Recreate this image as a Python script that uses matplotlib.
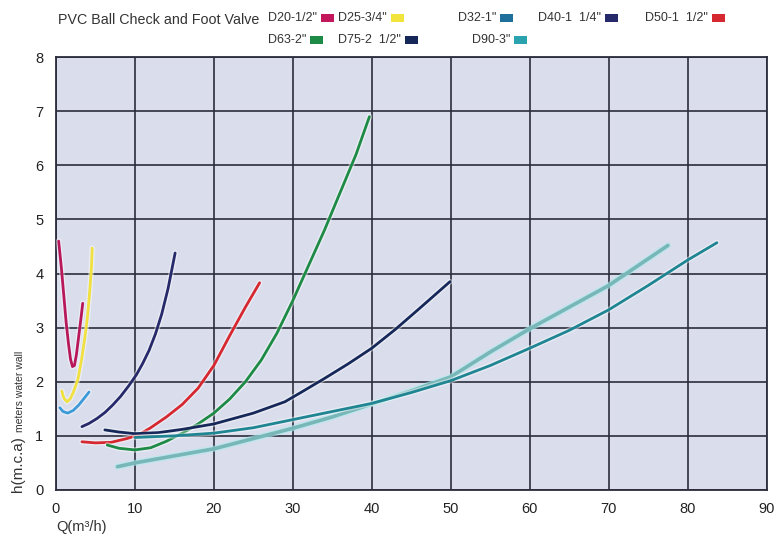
import matplotlib.pyplot as plt
import matplotlib.patheffects as pe
from matplotlib.patches import Rectangle

plt.rcParams['font.family'] = ['Liberation Sans', 'DejaVu Sans']

""" Data read off the chart """

names = ['D20-1/2"', 'D25-3/4"', 'D32-1"', 'D40-1  1/4"', 'D50-1  1/2"',
         'D63-2"', 'D75-2  1/2"', 'D90-3"']
colors = ['#c2185b', '#f2e43c', '#1f6f9c', '#262a6a', '#d62830',
          '#1d8a45', '#16285a', '#2aa3ae']
line_colors = ['#b8185a', '#f0e040', '#3d9ad8', '#262a6a', '#d62830',
               '#1d8a45', '#16285a', '#1f8593']

d20_q = [0.35, 0.7, 1.0, 1.3, 1.6, 1.85, 2.1, 2.35, 2.6, 2.9, 3.2, 3.4]
d20_h = [4.6, 4.1, 3.6, 3.1, 2.7, 2.42, 2.28, 2.3, 2.5, 2.85, 3.2, 3.45]

d25_q = [0.75, 1.0, 1.4, 1.8, 2.2, 2.8, 3.3, 3.7, 4.0, 4.3, 4.5, 4.6]
d25_h = [1.83, 1.7, 1.63, 1.68, 1.8, 2.05, 2.45, 2.85, 3.2, 3.7, 4.1, 4.47]

d32_q = [0.5, 0.9, 1.5, 2.2, 2.9, 3.5, 4.2]
d32_h = [1.52, 1.45, 1.42, 1.47, 1.57, 1.68, 1.81]

d40_q = [3.3, 4.2, 5.2, 6.2, 7.2, 8.2, 9.2, 10.2, 11.0, 11.8, 12.6, 13.4, 14.2, 15.1]
d40_h = [1.17, 1.23, 1.32, 1.43, 1.57, 1.73, 1.92, 2.13, 2.34, 2.58, 2.88, 3.25, 3.72, 4.38]

d50_q = [3.3, 5, 7, 9, 10.5, 12, 14, 16, 18, 20, 22, 24, 25.8]
d50_h = [0.89, 0.87, 0.88, 0.95, 1.02, 1.15, 1.35, 1.58, 1.88, 2.3, 2.85, 3.38, 3.83]

d63_q = [6.5, 8, 10, 12, 14, 16, 18, 20, 22, 24, 26, 28, 30, 32, 34, 36, 38, 39.7]
d63_h = [0.83, 0.77, 0.74, 0.78, 0.9, 1.05, 1.22, 1.42, 1.68, 2.0, 2.4, 2.9, 3.5, 4.15, 4.8, 5.5, 6.2, 6.9]

d75_q = [6.2, 8, 10, 13, 16, 20, 25, 29, 31, 34, 37, 40, 43, 46, 49.9]
d75_h = [1.11, 1.07, 1.04, 1.06, 1.12, 1.22, 1.42, 1.63, 1.8, 2.06, 2.33, 2.62, 2.97, 3.35, 3.85]

d90_q = [10, 15, 20, 25, 30, 35, 40, 45, 50, 55, 60, 65, 70, 75, 80, 83.7]
d90_h = [0.97, 1.0, 1.05, 1.15, 1.3, 1.45, 1.6, 1.8, 2.02, 2.3, 2.62, 2.95, 3.33, 3.78, 4.25, 4.57]

# extra curve without its own legend entry
ext_q = [7.8, 10, 15, 20, 25, 30, 35, 40, 45, 50, 55, 60, 65, 70, 77.5]
ext_h = [0.43, 0.5, 0.63, 0.76, 0.95, 1.14, 1.35, 1.59, 1.83, 2.09, 2.55, 2.98, 3.38, 3.78, 4.52]

curves = [(d20_q, d20_h), (d25_q, d25_h), (d32_q, d32_h), (d40_q, d40_h),
          (d50_q, d50_h), (d63_q, d63_h), (d75_q, d75_h), (d90_q, d90_h)]

x_ticks = [0, 10, 20, 30, 40, 50, 60, 70, 80, 90]
y_ticks = [0, 1, 2, 3, 4, 5, 6, 7, 8]

""" Plot """

fig = plt.figure(figsize=(7.76, 5.39), dpi=100)
ax = fig.add_axes([0.072, 0.091, 0.916, 0.803])
ax.set_facecolor('#d9ddec')

glow = [pe.Stroke(linewidth=4.0, foreground='white', alpha=0.45), pe.Normal()]
ax.plot(ext_q, ext_h, color='#78b6b8', lw=2.6, solid_capstyle='round',
        path_effects=[pe.Stroke(linewidth=4.3, foreground='#a8eef0', alpha=0.6), pe.Normal()], zorder=3)
for i, (q, h) in enumerate(curves):
    ax.plot(q, h, color=line_colors[i], lw=2.0, solid_capstyle='round',
            solid_joinstyle='round', path_effects=glow, zorder=4)

ax.set_xlim(0, 90)
ax.set_ylim(0, 8)
ax.set_xticks(x_ticks)
ax.set_yticks(y_ticks)
ax.grid(True, color='#2b2d3c', lw=1.2)
ax.set_axisbelow(True)
for s in ax.spines.values():
    s.set_color('#2b2d3c')
    s.set_linewidth(1.3)
ax.tick_params(length=0, labelsize=10.5, colors='#222222')
ax.tick_params(axis='x', pad=9)
ax.tick_params(axis='y', pad=9)

W, H = 776.0, 539.0
fig.text(58 / W, 1 - 20 / H, 'PVC Ball Check and Foot Valve', fontsize=10.3,
         color='#333333', va='center', ha='left')

# header legend: text then a small colour block right after it
leg_x = [268, 338, 458, 538, 645, 268, 338, 472]
leg_y = [18, 18, 18, 18, 18, 40, 40, 40]
renderer = fig.canvas.get_renderer()
for i, name in enumerate(names):
    t = fig.text(leg_x[i] / W, 1 - leg_y[i] / H, name, fontsize=9,
                 color='#333333', va='center', ha='left')
    bb = t.get_window_extent(renderer)
    fig.add_artist(Rectangle(((bb.x1 + 4) / W, 1 - (leg_y[i] + 4) / H), 13 / W, 8 / H,
                             transform=fig.transFigure, facecolor=colors[i],
                             edgecolor='none'))

fig.text(18 / W, 1 - 492 / H, 'h(m.c.a)', rotation=90, fontsize=11,
         va='bottom', ha='center', color='#333333')
fig.text(20 / W, 1 - 432 / H, 'meters water wall', rotation=90, fontsize=7.5,
         va='bottom', ha='center', color='#333333')
fig.text(56 / W, 1 - 527 / H, 'Q(m\u00b3/h)', fontsize=10.5, va='center',
         ha='left', color='#333333')

plt.savefig('out.png', dpi=100)
